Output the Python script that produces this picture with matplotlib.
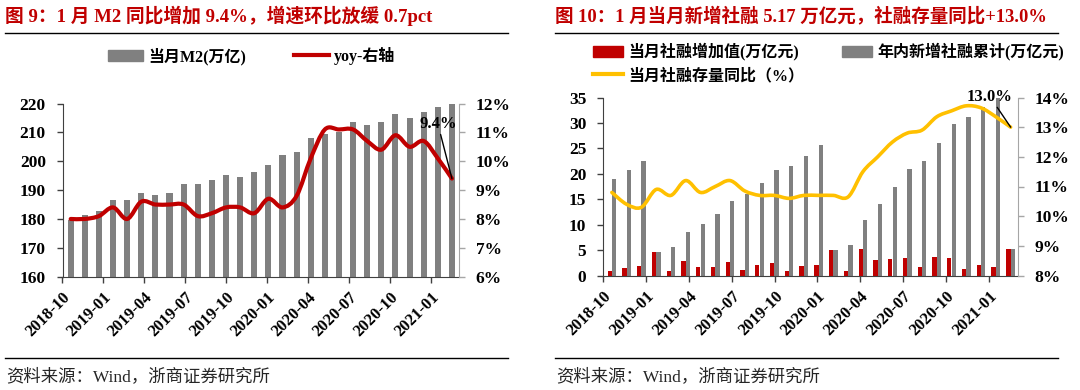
import numpy as np
import matplotlib
matplotlib.use('Agg')
import matplotlib.pyplot as plt
from matplotlib.path import Path
from matplotlib.patches import PathPatch, Patch
from matplotlib.lines import Line2D

plt.rcParams['font.family'] = ['Liberation Serif', 'Noto Sans CJK SC']
plt.rcParams['font.weight'] = 'bold'
plt.rcParams['axes.unicode_minus'] = False

# ---- 数据 ----
months = ['2018-10', '2018-11', '2018-12', '2019-01', '2019-02', '2019-03', '2019-04',
          '2019-05', '2019-06', '2019-07', '2019-08', '2019-09', '2019-10', '2019-11',
          '2019-12', '2020-01', '2020-02', '2020-03', '2020-04', '2020-05', '2020-06',
          '2020-07', '2020-08', '2020-09', '2020-10', '2020-11', '2020-12', '2021-01']
tick_labels = ['2018-10', '2019-01', '2019-04', '2019-07', '2019-10',
               '2020-01', '2020-04', '2020-07', '2020-10', '2021-01']

m2 = [179.56, 181.32, 182.67, 186.59, 186.74, 188.94, 188.40, 189.02, 192.14, 191.94,
      193.55, 195.23, 194.56, 196.14, 198.65, 202.31, 203.08, 208.09, 209.35, 210.02,
      213.49, 212.55, 213.68, 216.41, 214.97, 217.20, 218.68, 221.30]
m2_yoy = [8.0, 8.0, 8.1, 8.4, 8.0, 8.6, 8.5, 8.5, 8.5, 8.1, 8.2, 8.4, 8.4, 8.2,
          8.7, 8.4, 8.8, 10.1, 11.1, 11.1, 11.1, 10.7, 10.4, 10.9, 10.5, 10.7, 10.1, 9.4]

tsf_month = [0.80, 1.52, 1.80, 4.64, 0.80, 2.90, 1.60, 1.70, 2.60, 1.15, 2.15, 2.50,
             0.80, 1.95, 2.15, 5.07, 0.80, 5.15, 3.05, 3.15, 3.40, 1.65, 3.55, 3.45,
             1.35, 2.05, 1.72, 5.17]
tsf_cum = [19.0, 20.7, 22.5, 4.64, 5.6, 8.6, 10.2, 12.0, 14.6, 16.0, 18.1, 20.7,
           21.5, 23.4, 25.6, 5.07, 6.0, 11.0, 14.1, 17.4, 20.9, 22.6, 26.1, 29.7,
           31.1, 33.2, 34.9, 5.17]
tsf_yoy = [10.8, 10.4, 10.3, 10.9, 10.7, 11.2, 10.8, 11.0, 11.2, 10.85, 10.7, 10.7,
           10.6, 10.7, 10.7, 10.7, 10.65, 11.5, 12.0, 12.5, 12.8, 12.9, 13.35, 13.55,
           13.72, 13.65, 13.35, 13.0]

RED = '#C00000'
GRAY = '#808080'
YELLOW = '#FFC000'
W, H = 1080, 390


def smooth_path(xs, ys):
    # Excel 风格的平滑线（贝塞尔曲线）
    pts = np.column_stack([xs, ys]).astype(float)
    n = len(pts)
    verts = [pts[0]]
    codes = [Path.MOVETO]
    for i in range(n - 1):
        p0 = pts[max(i - 1, 0)]
        p1 = pts[i]
        p2 = pts[i + 1]
        p3 = pts[min(i + 2, n - 1)]
        verts += [p1 + (p2 - p0) / 6, p2 - (p3 - p1) / 6, p2]
        codes += [Path.CURVE4] * 3
    return Path(verts, codes)


def px_axes(x0, y0, x1, y1):
    return fig.add_axes([x0 / W, 1 - y1 / H, (x1 - x0) / W, (y1 - y0) / H])


def style_axes(ax, axr):
    ax.spines['top'].set_visible(False)
    ax.spines['right'].set_visible(False)
    axr.spines['top'].set_visible(False)
    axr.spines['left'].set_visible(False)
    axr.spines['bottom'].set_visible(False)
    ax.spines['left'].set_color('#404040')
    ax.spines['bottom'].set_color('#404040')
    axr.spines['right'].set_color('#A6A6A6')
    ax.tick_params(axis='y', direction='out', length=4, width=1, color='#404040', pad=8, labelsize=12.5)
    ax.tick_params(axis='x', direction='out', length=4, width=1, color='#404040', pad=5, labelsize=12)
    axr.tick_params(axis='y', direction='out', length=4, width=1, color='#A6A6A6', pad=8, labelsize=12.5)
    ticks = -0.58 + 2.9 * np.arange(len(tick_labels))
    ax.set_xticks(ticks)
    ax.set_xticklabels(tick_labels, rotation=45, ha='right', va='top', rotation_mode='anchor')


fig = plt.figure(figsize=(10.8, 3.9), dpi=100)
x = np.arange(len(months))

# ---- 图9 ----
ax1 = px_axes(62.5, 103.5, 459, 276.7)
ax1r = ax1.twinx()
ax1.bar(x, m2, width=0.43, color=GRAY, zorder=2)
ax1.set_ylim(160, 220)
ax1.set_yticks(range(160, 221, 10))
ax1.set_xlim(-0.55, 27.5)
ax1r.set_ylim(6, 12)
ax1r.set_yticks(range(6, 13))
ax1r.set_yticklabels([f'{v}%' for v in range(6, 13)])
ax1r.add_patch(PathPatch(smooth_path(x, m2_yoy), fill=False, edgecolor=RED, lw=3.0,
                         capstyle='round', joinstyle='round', zorder=3))
ax1r.annotate('9.4%', xy=(x[-1], m2_yoy[-1]), xytext=(26.0, 11.3), ha='center', va='center',
              fontsize=12, arrowprops=dict(arrowstyle='-', color='black', lw=1, shrinkA=0, shrinkB=0))
style_axes(ax1, ax1r)

# ---- 图10 ----
ax2 = px_axes(603, 97.5, 1018, 275.5)
ax2r = ax2.twinx()
ax2.bar(x - 0.15, tsf_month, width=0.29, color=RED, zorder=2)
ax2.bar(x + 0.15, tsf_cum, width=0.29, color=GRAY, zorder=2)
ax2.set_ylim(0, 35)
ax2.set_yticks(range(0, 36, 5))
ax2.set_xlim(-0.6, 27.5)
ax2r.set_ylim(8, 14)
ax2r.set_yticks(range(8, 15))
ax2r.set_yticklabels([f'{v}%' for v in range(8, 15)])
ax2r.add_patch(PathPatch(smooth_path(x, tsf_yoy), fill=False, edgecolor=YELLOW, lw=2.6,
                         capstyle='round', joinstyle='round', zorder=3))
ax2r.annotate('13.0%', xy=(x[-1], tsf_yoy[-1]), xytext=(25.6, 14.03), ha='center', va='center',
              fontsize=12, arrowprops=dict(arrowstyle='-', color='black', lw=1, shrinkA=0, shrinkB=0))
style_axes(ax2, ax2r)

# ---- 图例 ----
fig.legend([Patch(color=GRAY), Line2D([], [], color=RED, lw=3)],
           ['当月M2(万亿)', 'yoy-右轴'], loc='upper left', bbox_to_anchor=(108 / W, 1 - 47 / H),
           ncol=2, frameon=False, fontsize=11.5, handlelength=2.2, handletextpad=0.3,
           columnspacing=3.0, borderpad=0, borderaxespad=0)
fig.legend([Patch(color=RED), Line2D([], [], color=YELLOW, lw=3), Patch(color=GRAY)],
           ['当月社融增加值(万亿元)', '当月社融存量同比（%）', '年内新增社融累计(万亿元)'],
           loc='upper left', bbox_to_anchor=(593 / W, 1 - 43 / H),
           ncol=2, frameon=False, fontsize=11.5, handlelength=1.85, handletextpad=0.35,
           columnspacing=2.4, labelspacing=0.45, borderpad=0, borderaxespad=0)

# ---- 标题、分隔线、资料来源 ----
fig.text(5 / W, 1 - 16 / H, '图 9：1 月 M2 同比增加 9.4%，增速环比放缓 0.7pct',
         color=RED, fontsize=13.5, va='center', ha='left')
fig.text(555 / W, 1 - 16 / H, '图 10：1 月当月新增社融 5.17 万亿元，社融存量同比+13.0%',
         color=RED, fontsize=13.3, va='center', ha='left')
for x0, x1 in [(5, 508), (555, 1058)]:
    fig.add_artist(Line2D([x0 / W, x1 / W], [1 - 32.5 / H] * 2, transform=fig.transFigure, color='black', lw=1))
    fig.add_artist(Line2D([x0 / W, x1 / W], [1 - 357.5 / H] * 2, transform=fig.transFigure, color='black', lw=1))
    fig.text((x0 + 1) / W, 1 - 377 / H, '资料来源：Wind，浙商证券研究所', fontsize=12.5,
             fontweight='normal', color='#262626', va='center', ha='left')

fig.savefig('out.png', dpi=100)
